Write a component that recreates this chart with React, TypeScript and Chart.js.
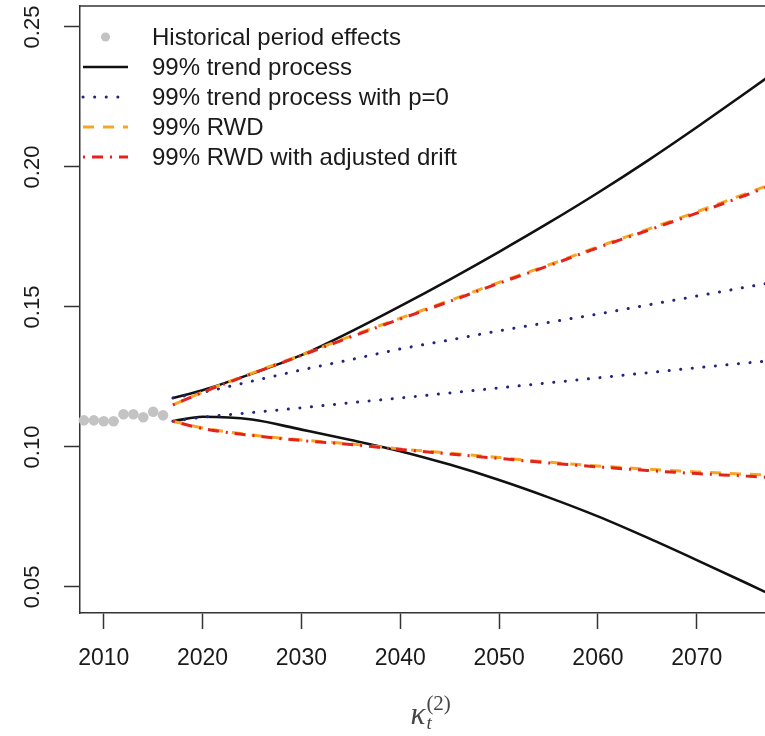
import React, { useEffect, useRef } from 'react';
import { Chart, registerables } from 'chart.js';

Chart.register(...registerables);

// ---- data ----
const HIST_YEARS = [2008, 2009, 2010, 2011, 2012, 2013, 2014, 2015, 2016];
const HIST_KAPPA = [0.1095, 0.1095, 0.1092, 0.1092, 0.1117, 0.1117, 0.1106, 0.1126, 0.1113];

const FC_YEARS = [2017, 2020, 2025, 2030, 2035, 2040, 2045, 2050, 2055, 2060, 2065, 2070, 2075, 2078];

const TREND_UPPER = [0.1175, 0.1203, 0.1262, 0.1328, 0.1412, 0.1503, 0.1598, 0.1697, 0.1800, 0.1908, 0.2022, 0.2142, 0.2266, 0.2342];
const TREND_LOWER = [0.1092, 0.1108, 0.1098, 0.1062, 0.1025, 0.0985, 0.0937, 0.0882, 0.0820, 0.0752, 0.0676, 0.0596, 0.0514, 0.0464];

const P0_UPPER = [0.1175, 0.1195, 0.1235, 0.1275, 0.1312, 0.1350, 0.1382, 0.1415, 0.1445, 0.1475, 0.1507, 0.1539, 0.1571, 0.1590];
const P0_LOWER = [0.1092, 0.1106, 0.1123, 0.1140, 0.1158, 0.1175, 0.1193, 0.1211, 0.1229, 0.1247, 0.1265, 0.1283, 0.1300, 0.1310];

const RWD_UPPER = [0.1150, 0.1196, 0.1264, 0.1329, 0.1396, 0.1460, 0.1523, 0.1588, 0.1650, 0.1715, 0.1777, 0.1840, 0.1905, 0.1945];
const RWD_LOWER = [0.1092, 0.1068, 0.1043, 0.1025, 0.1011, 0.0993, 0.0978, 0.0962, 0.0946, 0.0932, 0.0921, 0.0911, 0.0903, 0.0899];

const RWDADJ_UPPER = [0.1150, 0.1195, 0.1262, 0.1327, 0.1393, 0.1457, 0.1520, 0.1585, 0.1647, 0.1712, 0.1773, 0.1835, 0.1900, 0.1940];
const RWDADJ_LOWER = [0.1092, 0.1066, 0.1041, 0.1023, 0.1009, 0.0991, 0.0975, 0.0959, 0.0943, 0.0929, 0.0916, 0.0905, 0.0896, 0.0890];

const X_TICKS = [2010, 2020, 2030, 2040, 2050, 2060, 2070];
const Y_TICKS = [0.05, 0.1, 0.15, 0.2, 0.25];
const X_MIN = 2007.6;
const X_MAX = 2076.9;
const Y_MIN = 0.0407;
const Y_MAX = 0.2575;

const LEGEND_LABELS = [
  'Historical period effects',
  '99% trend process',
  '99% trend process with p=0',
  '99% RWD',
  '99% RWD with adjusted drift',
];

// ---- styles ----
const GRAY = '#c3c3c3';
const BLACK = '#111111';
const NAVY = '#24247e';
const ORANGE = '#f6a623';
const RED = '#e3231c';
const AXIS = '#333333';
const FONT = "'Liberation Sans', Arial, Helvetica, sans-serif";
const SERIF = "'Liberation Serif', 'DejaVu Serif', serif";

const DASH_P0 = [0.1, 11.5];
const DASH_RWD = [11, 9];
const DASH_ADJ = [2, 7, 11, 7];

const pts = (xs: number[], ys: number[]) => xs.map((x, i) => ({ x, y: ys[i] }));

const lineDs = (label: string, data: number[], color: string, dash: number[], width: number, order: number, cap: CanvasLineCap = 'butt') => ({
  type: 'line' as const,
  label,
  data: pts(FC_YEARS, data),
  borderColor: color,
  backgroundColor: color,
  borderWidth: width,
  borderDash: dash,
  borderCapStyle: cap,
  pointRadius: 0,
  fill: false,
  cubicInterpolationMode: 'monotone' as const,
  order,
});

const overlayPlugin = {
  id: 'overlay',
  afterDraw(chart: any) {
    const { ctx, chartArea, scales } = chart;
    const y = scales.y;
    ctx.save();
    // top border
    ctx.strokeStyle = AXIS;
    ctx.lineWidth = 1.5;
    ctx.beginPath();
    ctx.moveTo(chartArea.left, chartArea.top);
    ctx.lineTo(chart.width, chartArea.top);
    ctx.stroke();

    // rotated y tick labels
    ctx.fillStyle = '#1a1a1a';
    ctx.font = `22px ${FONT}`;
    ctx.textAlign = 'center';
    ctx.textBaseline = 'middle';
    y.ticks.forEach((t: any) => {
      const py = y.getPixelForValue(t.value);
      ctx.save();
      ctx.translate(chartArea.left - 47, py);
      ctx.rotate(-Math.PI / 2);
      ctx.fillText(Number(t.value).toFixed(2), 0, 0);
      ctx.restore();
    });

    // legend
    const lx0 = chartArea.left + 3;
    const lx1 = chartArea.left + 48;
    const tx = chartArea.left + 72;
    const styles = [
      { kind: 'point', color: GRAY },
      { kind: 'line', color: BLACK, dash: [], width: 2.6, cap: 'butt' },
      { kind: 'line', color: NAVY, dash: DASH_P0, width: 3, cap: 'round' },
      { kind: 'line', color: ORANGE, dash: DASH_RWD, width: 3, cap: 'butt' },
      { kind: 'line', color: RED, dash: DASH_ADJ, width: 3, cap: 'butt' },
    ];
    styles.forEach((s: any, i: number) => {
      const cy = chartArea.top + 31 + i * 30;
      if (s.kind === 'point') {
        ctx.fillStyle = s.color;
        ctx.beginPath();
        ctx.arc((lx0 + lx1) / 2, cy, 4.5, 0, Math.PI * 2);
        ctx.fill();
      } else {
        ctx.strokeStyle = s.color;
        ctx.lineWidth = s.width;
        ctx.lineCap = s.cap;
        ctx.setLineDash(s.dash);
        ctx.beginPath();
        ctx.moveTo(lx0, cy);
        ctx.lineTo(lx1, cy);
        ctx.stroke();
        ctx.setLineDash([]);
      }
      ctx.fillStyle = '#1a1a1a';
      ctx.font = `24px ${FONT}`;
      ctx.textAlign = 'left';
      ctx.textBaseline = 'middle';
      ctx.fillText(LEGEND_LABELS[i], tx, cy + 1);
    });

    // x-axis caption: kappa_t^(2)
    const cx = (chartArea.left + chartArea.right) / 2 - 12;
    const base = chart.height - 12;
    ctx.fillStyle = '#444444';
    ctx.textAlign = 'left';
    ctx.textBaseline = 'alphabetic';
    ctx.font = `italic 31px ${SERIF}`;
    ctx.fillText('\u03BA', cx, base);
    const kw = ctx.measureText('\u03BA').width;
    ctx.font = `italic 19px ${SERIF}`;
    ctx.fillText('t', cx + kw + 1, base + 5);
    ctx.font = `21px ${SERIF}`;
    ctx.fillText('(2)', cx + kw + 1, base - 14);
    ctx.restore();
  },
};

export default function App() {
  const ref = useRef<HTMLCanvasElement | null>(null);
  useEffect(() => {
    if (!ref.current) return;
    const chart = new Chart(ref.current, {
      type: 'line',
      data: {
        datasets: [
          lineDs('99% RWD with adjusted drift (upper)', RWDADJ_UPPER, RED, DASH_ADJ, 3, 0),
          lineDs('99% RWD with adjusted drift (lower)', RWDADJ_LOWER, RED, DASH_ADJ, 3, 0),
          lineDs('99% RWD (upper)', RWD_UPPER, ORANGE, DASH_RWD, 3, 1),
          lineDs('99% RWD (lower)', RWD_LOWER, ORANGE, DASH_RWD, 3, 1),
          lineDs('99% trend process with p=0 (upper)', P0_UPPER, NAVY, DASH_P0, 3, 2, 'round'),
          lineDs('99% trend process with p=0 (lower)', P0_LOWER, NAVY, DASH_P0, 3, 2, 'round'),
          lineDs('99% trend process (upper)', TREND_UPPER, BLACK, [], 2.6, 3),
          lineDs('99% trend process (lower)', TREND_LOWER, BLACK, [], 2.6, 3),
          {
            type: 'line' as const,
            label: 'Historical period effects',
            data: pts(HIST_YEARS, HIST_KAPPA),
            showLine: false,
            pointRadius: 5.3,
            pointBorderWidth: 0,
            pointBackgroundColor: GRAY,
            borderColor: GRAY,
            backgroundColor: GRAY,
            clip: false,
            order: 4,
          },
        ],
      },
      options: {
        animation: false,
        responsive: false,
        devicePixelRatio: 1,
        layout: { autoPadding: false, padding: { top: 6, left: 0, right: 0, bottom: 0 } },
        plugins: { legend: { display: false }, tooltip: { enabled: false }, title: { display: false } },
        scales: {
          x: {
            type: 'linear',
            min: X_MIN,
            max: X_MAX,
            afterBuildTicks: (s: any) => { s.ticks = X_TICKS.map((v) => ({ value: v })); },
            afterFit: (s: any) => { s.height = 123; s.paddingLeft = 0; s.paddingRight = 0; },
            grid: { display: true, drawOnChartArea: false, drawTicks: true, tickLength: 16, tickWidth: 1.5, tickColor: AXIS },
            border: { display: true, color: AXIS, width: 1.5 },
            ticks: {
              color: '#1a1a1a',
              font: { family: FONT, size: 23 },
              padding: 16,
              maxRotation: 0,
              minRotation: 0,
              callback: (v: any) => String(v),
            },
          },
          y: {
            type: 'linear',
            min: Y_MIN,
            max: Y_MAX,
            afterBuildTicks: (s: any) => { s.ticks = Y_TICKS.map((v) => ({ value: v })); },
            afterFit: (s: any) => { s.width = 80; s.paddingTop = 0; s.paddingBottom = 0; },
            grid: { display: true, drawOnChartArea: false, drawTicks: true, tickLength: 16, tickWidth: 1.5, tickColor: AXIS },
            border: { display: true, color: AXIS, width: 1.5 },
            ticks: { display: false },
          },
        },
      },
      plugins: [overlayPlugin],
    } as any);
    return () => chart.destroy();
  }, []);
  return (
    <div style={{ position: 'fixed', left: 0, top: 0, width: 765, height: 736, background: '#fff' }}>
      <canvas ref={ref} width={765} height={736} style={{ width: 765, height: 736, display: 'block' }} />
    </div>
  );
}
